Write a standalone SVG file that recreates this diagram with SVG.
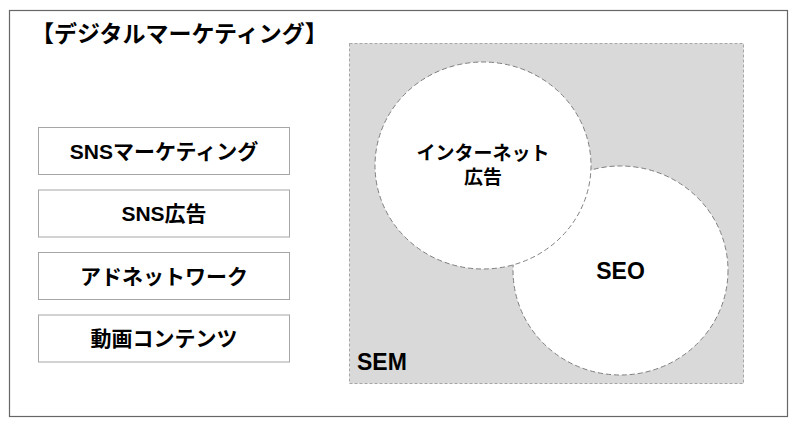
<svg xmlns="http://www.w3.org/2000/svg" width="800" height="428" viewBox="0 0 800 428">
<style>
text{font-family:"Liberation Sans","Noto Sans CJK JP",sans-serif;font-weight:bold;fill:#000}
.box{fill:#fff;stroke:#a6a6a6;stroke-width:1}
.lbl{font-size:21px;text-anchor:middle;dominant-baseline:central}
.clbl{font-size:19px;text-anchor:middle;dominant-baseline:central}
.circ{fill:#fff;stroke:#7f7f7f;stroke-width:1;stroke-dasharray:5 3}
</style>
<rect x="0" y="0" width="800" height="428" fill="#fff"/>
<g id="frame">
<rect x="9.5" y="10.5" width="778" height="406" fill="#fff" stroke="#666" stroke-width="1.2"/>
<text x="31" y="42" font-size="23">【デジタルマーケティング】</text>
</g>
<g id="sem">
<rect x="349.5" y="43.5" width="394" height="340" fill="#d9d9d9" stroke="#a6a6a6" stroke-width="1" stroke-dasharray="3 2"/>
<text x="357" y="370" font-size="23">SEM</text>
</g>
<g id="seo">
<ellipse class="circ" cx="620.5" cy="270.5" rx="107.5" ry="104.5"/>
<text x="620.5" y="271" font-size="23" text-anchor="middle" dominant-baseline="central">SEO</text>
</g>
<g id="internet-ad">
<ellipse class="circ" cx="483" cy="165.5" rx="108" ry="103.5"/>
<text class="clbl" x="483" y="153">インターネット</text>
<text class="clbl" x="483" y="177">広告</text>
</g>
<g id="sns-marketing">
<rect class="box" x="38.5" y="127.5" width="251" height="47"/>
<text class="lbl" x="164" y="151">SNSマーケティング</text>
</g>
<g id="sns-ad">
<rect class="box" x="38.5" y="190" width="251" height="47"/>
<text class="lbl" x="164" y="213.5">SNS広告</text>
</g>
<g id="ad-network">
<rect class="box" x="38.5" y="252.5" width="251" height="47"/>
<text class="lbl" x="164" y="276">アドネットワーク</text>
</g>
<g id="video-content">
<rect class="box" x="38.5" y="315" width="251" height="47"/>
<text class="lbl" x="164" y="338.5">動画コンテンツ</text>
</g>
<g id="connectors"></g>
</svg>
